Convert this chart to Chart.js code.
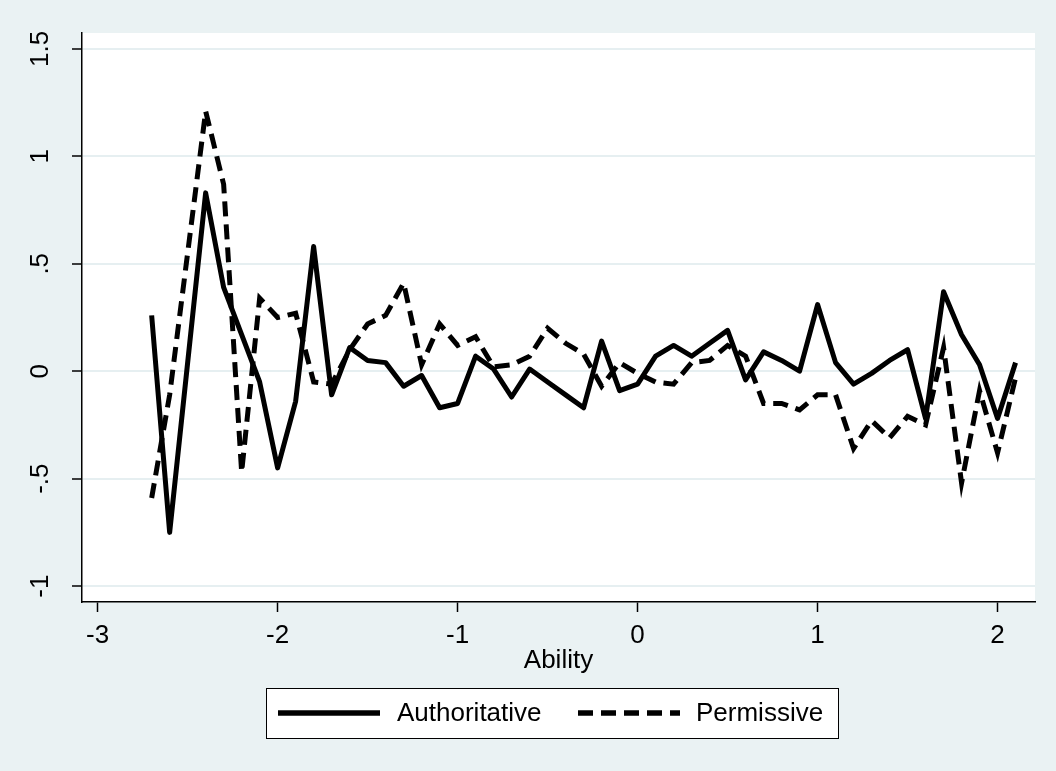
<!DOCTYPE html>
<html>
<head>
<meta charset="utf-8">
<title>Ability profile</title>
<script src="https://cdn.jsdelivr.net/npm/chart.js@4.4.1/dist/chart.umd.min.js"></script>
<style>
  html, body { margin: 0; padding: 0; background: #eaf2f3; }
  canvas { display: block; }
</style>
</head>
<body>
<canvas id="chart" width="1056" height="771"></canvas>
<script>
// Ability bins (x) shared by both series
const ability = [
  -2.7, -2.6, -2.4, -2.3, -2.2, -2.1, -2.0, -1.9, -1.8, -1.7, -1.6, -1.5,
  -1.4, -1.3, -1.2, -1.1, -1.0, -0.9, -0.8, -0.7, -0.6, -0.5, -0.4, -0.3,
  -0.2, -0.1, 0.0, 0.1, 0.2, 0.3, 0.4, 0.5, 0.6, 0.7, 0.8, 0.9,
  1.0, 1.1, 1.2, 1.3, 1.4, 1.5, 1.6, 1.7, 1.8, 1.9, 2.0, 2.1
];

const authoritative = [
  0.26, -0.75, 0.83, 0.39, 0.17, -0.05, -0.45, -0.14, 0.58, -0.11, 0.11, 0.05,
  0.04, -0.07, -0.02, -0.17, -0.15, 0.07, 0.01, -0.12, 0.01, -0.05, -0.11, -0.17,
  0.14, -0.09, -0.06, 0.07, 0.12, 0.07, 0.13, 0.19, -0.04, 0.09, 0.05, 0.00,
  0.31, 0.04, -0.06, -0.01, 0.05, 0.10, -0.22, 0.37, 0.17, 0.03, -0.22, 0.04
];

const permissive = [
  -0.59, -0.11, 1.21, 0.87, -0.47, 0.34, 0.25, 0.27, -0.05, -0.06, 0.10, 0.22,
  0.26, 0.41, 0.03, 0.22, 0.12, 0.16, 0.02, 0.03, 0.07, 0.20, 0.13, 0.08,
  -0.07, 0.04, -0.01, -0.05, -0.06, 0.04, 0.05, 0.12, 0.07, -0.15, -0.15, -0.18,
  -0.11, -0.11, -0.36, -0.23, -0.31, -0.21, -0.25, 0.11, -0.52, -0.09, -0.38, -0.03
];

const seriesNames = ['Authoritative', 'Permissive'];

const xTickValues = [-3, -2, -1, 0, 1, 2];
const xTickLabels = ['-3', '-2', '-1', '0', '1', '2'];
const yTickValues = [-1, -0.5, 0, 0.5, 1, 1.5];
const yTickLabels = ['-1', '-.5', '0', '.5', '1', '1.5'];

const xTitle = 'Ability';

const FONT = "'Liberation Sans', Arial, Helvetica, sans-serif";
const FONT_SIZE = 26;
const BG = '#eaf2f3';

// Paints the outer region and the white plot region
const backgroundPlugin = {
  id: 'panelBackground',
  beforeDraw(chart) {
    const { ctx, chartArea } = chart;
    ctx.save();
    ctx.fillStyle = BG;
    ctx.fillRect(0, 0, chart.width, chart.height);
    ctx.fillStyle = '#ffffff';
    ctx.fillRect(chartArea.left, chartArea.top,
                 chartArea.right - chartArea.left, chartArea.bottom - chartArea.top);
    ctx.restore();
  }
};

// Boxed legend below the axis title, with line samples
const boxedLegend = {
  id: 'boxedLegend',
  afterDraw(chart) {
    const { ctx } = chart;
    const box = { left: 266, top: 688, width: 572, height: 50 };
    const cy = box.top + box.height / 2;
    const entries = [
      { lineX: 278, textX: 397 },
      { lineX: 578, textX: 696 }
    ];
    ctx.save();
    ctx.fillStyle = '#ffffff';
    ctx.fillRect(box.left, box.top, box.width, box.height);
    ctx.strokeStyle = '#000000';
    ctx.lineWidth = 1;
    ctx.strokeRect(box.left + 0.5, box.top + 0.5, box.width, box.height);
    chart.data.datasets.forEach((ds, i) => {
      const e = entries[i];
      ctx.beginPath();
      ctx.setLineDash(ds.borderDash || []);
      ctx.lineCap = 'butt';
      ctx.lineWidth = ds.borderWidth + 0.5;
      ctx.strokeStyle = ds.borderColor;
      ctx.moveTo(e.lineX, cy);
      ctx.lineTo(e.lineX + 102, cy);
      ctx.stroke();
      ctx.setLineDash([]);
      ctx.fillStyle = '#000000';
      ctx.font = FONT_SIZE + 'px ' + FONT;
      ctx.textAlign = 'left';
      ctx.textBaseline = 'middle';
      ctx.fillText(ds.label, e.textX, cy + 1);
    });
    ctx.restore();
  }
};

const toPoints = (ys) => ability.map((x, i) => ({ x: x, y: ys[i] }));

new Chart(document.getElementById('chart'), {
  type: 'line',
  data: {
    datasets: [
      {
        label: seriesNames[0],
        data: toPoints(authoritative),
        borderColor: '#000000',
        borderWidth: 5,
        borderJoinStyle: 'round',
        borderCapStyle: 'butt',
        pointRadius: 0,
        tension: 0,
        fill: false
      },
      {
        label: seriesNames[1],
        data: toPoints(permissive),
        borderColor: '#000000',
        borderWidth: 5,
        borderDash: [15, 8],
        borderJoinStyle: 'miter',
        borderCapStyle: 'butt',
        pointRadius: 0,
        tension: 0,
        fill: false
      }
    ]
  },
  options: {
    responsive: false,
    devicePixelRatio: 1,
    animation: false,
    events: [],
    layout: { padding: { left: 0, top: 33, right: 21, bottom: 95 } },
    plugins: {
      legend: { display: false },
      tooltip: { enabled: false }
    },
    scales: {
      x: {
        type: 'linear',
        min: -3.087,
        max: 2.208,
        afterBuildTicks(scale) {
          scale.ticks = xTickValues.map(v => ({ value: v }));
        },
        afterFit(scale) { scale.height = 74; },
        border: { display: true, color: '#000000', width: 1.5 },
        grid: {
          drawOnChartArea: false,
          drawTicks: true,
          tickLength: 10,
          tickColor: '#000000',
          tickWidth: 1.5
        },
        ticks: {
          color: '#000000',
          padding: 8,
          maxRotation: 0,
          minRotation: 0,
          autoSkip: false,
          font: { family: FONT, size: FONT_SIZE },
          callback: (v) => xTickLabels[xTickValues.indexOf(v)]
        },
        title: {
          display: true,
          text: xTitle,
          color: '#000000',
          padding: 0,
          font: { family: FONT, size: FONT_SIZE }
        }
      },
      y: {
        type: 'linear',
        min: -1.074,
        max: 1.574,
        afterBuildTicks(scale) {
          scale.ticks = yTickValues.map(v => ({ value: v }));
        },
        afterFit(scale) { scale.width = 82; },
        border: { display: true, color: '#000000', width: 1.5 },
        grid: {
          color: '#e6eff1',
          lineWidth: 2,
          drawTicks: true,
          tickLength: 10,
          tickColor: '#000000',
          tickWidth: 1.5
        },
        ticks: {
          color: '#000000',
          padding: 13,
          minRotation: 90,
          maxRotation: 90,
          crossAlign: 'center',
          autoSkip: false,
          font: { family: FONT, size: FONT_SIZE },
          callback: (v) => yTickLabels[yTickValues.indexOf(v)]
        }
      }
    }
  },
  plugins: [backgroundPlugin, boxedLegend]
});
</script>
</body>
</html>
